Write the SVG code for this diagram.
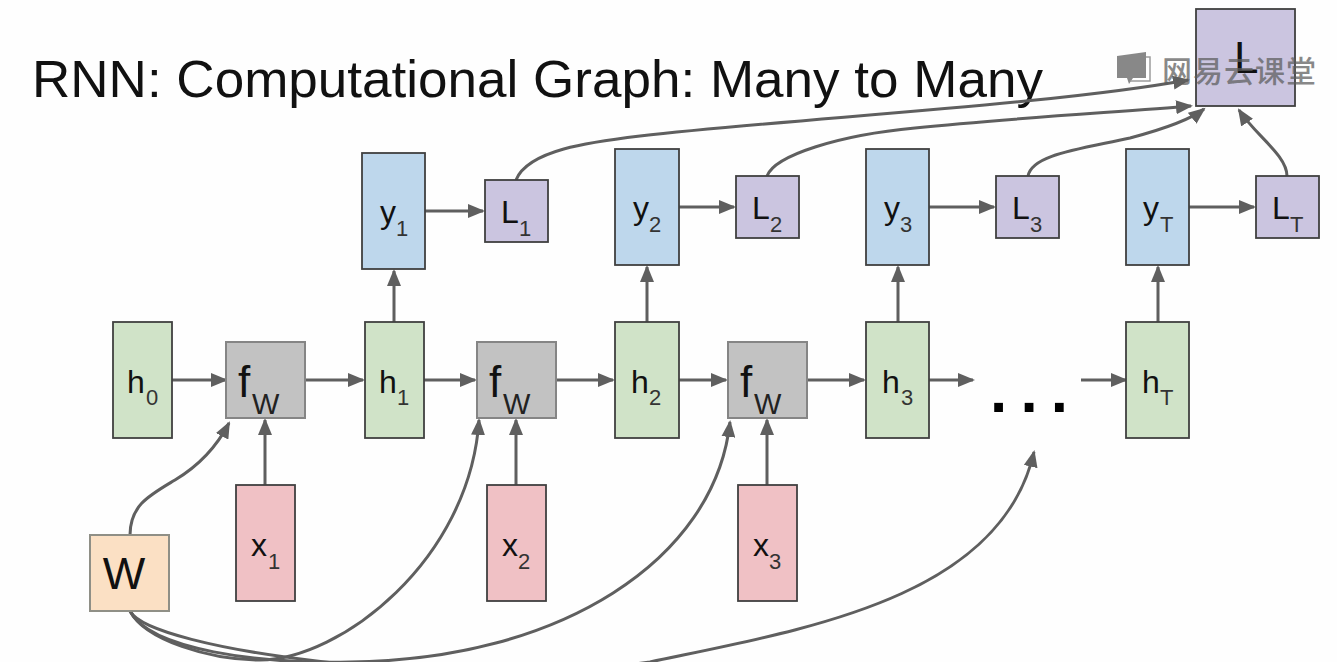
<svg xmlns="http://www.w3.org/2000/svg" width="1337" height="662" viewBox="0 0 1337 662">
<defs>
<marker id="a" markerUnits="userSpaceOnUse" markerWidth="18" markerHeight="14" refX="15" refY="7" orient="auto"><path d="M0 0L17 7L0 14Z" fill="#5f5f5f"/></marker>
</defs>
<style>
.n{stroke:#404040;stroke-width:1.8}
.g{fill:#d0e3c8}.b{fill:#bed7ec}.p{fill:#cbc5e0}.r{fill:#f0c1c5}.f{fill:#c2c2c2;stroke:#858585;stroke-width:2}.o{fill:#fbe0c4;stroke:#8f8f86;stroke-width:2}
text{font-family:"Liberation Sans",Arial,sans-serif;fill:#111}
.t{font-size:32px;text-anchor:middle}
.s{font-size:22px;fill:#333}
.w{font-size:44px}
.v{font-size:29px;fill:#222}
.c path{fill:none;stroke:#5f5f5f;stroke-width:3;marker-end:url(#a)}
</style>
<rect width="1337" height="662" fill="#fefefe"/>
<text id="title" x="32" y="97" font-size="52" textLength="1011" lengthAdjust="spacingAndGlyphs">RNN: Computational Graph: Many to Many</text>
<g id="connectors" class="c">
<path d="M172 380H226"/><path d="M305 380H363"/><path d="M424 380H475"/><path d="M556 380H613"/><path d="M679 380H726"/><path d="M807 380H864"/><path d="M929 380H973"/><path d="M1081 380H1126"/>
<path d="M394 322V271"/><path d="M647 322V267"/><path d="M898 322V267"/><path d="M1158 322V267"/>
<path d="M425 211H483"/><path d="M679 207H734"/><path d="M929 207H994"/><path d="M1189 207H1254"/>
<path d="M265 485V420"/><path d="M516 485V420"/><path d="M767 485V420"/>
<path d="M130 535C130 505 150 495 175 480C195 468 215 450 229 423"/>
<path d="M130 611C145 640 210 660 260 660C340 660 470 560 479 420"/>
<path d="M130 611C150 650 260 664 350 662C560 660 715 560 730 422"/>
<path d="M130 611C150 650 450 690 650 662C800 630 1000 600 1034 452"/>
<path d="M516 180C528 150 590 142 640 136C800 118 1050 105 1188 80"/>
<path d="M767 176C775 155 840 135 915 128C1010 118 1120 112 1191 106"/>
<path d="M1028 176C1032 155 1075 150 1130 138C1160 130 1190 120 1204 109"/>
<path d="M1287 176C1287 155 1255 135 1239 110"/>
</g>
<g id="h0"><rect class="n g" x="113" y="322" width="59" height="116"/><text class="t" x="136" y="393">h</text><text class="s" x="146" y="405">0</text></g>
<g id="f1"><rect class="f" x="226" y="342" width="79" height="76"/><text class="w" x="238" y="397">f</text><text class="v" x="252" y="414">W</text></g>
<g id="f2"><rect class="f" x="477" y="342" width="79" height="76"/><text class="w" x="489" y="397">f</text><text class="v" x="503" y="414">W</text></g>
<g id="f3"><rect class="f" x="728" y="342" width="79" height="76"/><text class="w" x="740" y="397">f</text><text class="v" x="754" y="414">W</text></g>
<g id="h1"><rect class="n g" x="365" y="322" width="59" height="116"/><text class="t" x="388" y="393">h</text><text class="s" x="397" y="405">1</text></g>
<g id="h2"><rect class="n g" x="615" y="322" width="64" height="116"/><text class="t" x="640" y="393">h</text><text class="s" x="649" y="405">2</text></g>
<g id="h3"><rect class="n g" x="866" y="322" width="63" height="116"/><text class="t" x="891" y="393">h</text><text class="s" x="901" y="405">3</text></g>
<g id="hT"><rect class="n g" x="1126" y="322" width="63" height="116"/><text class="t" x="1151" y="393">h</text><text class="s" x="1160" y="405">T</text></g>
<g id="y1"><rect class="n b" x="362" y="153" width="63" height="116"/><text class="t" x="388" y="223">y</text><text class="s" x="396" y="236">1</text></g>
<g id="y2"><rect class="n b" x="615" y="149" width="64" height="116"/><text class="t" x="641" y="219">y</text><text class="s" x="649" y="232">2</text></g>
<g id="y3"><rect class="n b" x="866" y="149" width="63" height="116"/><text class="t" x="892" y="219">y</text><text class="s" x="900" y="232">3</text></g>
<g id="yT"><rect class="n b" x="1126" y="149" width="63" height="116"/><text class="t" x="1151" y="219">y</text><text class="s" x="1160" y="232">T</text></g>
<g id="L1"><rect class="n p" x="485" y="180" width="63" height="62"/><text class="t" x="510" y="223">L</text><text class="s" x="519" y="236">1</text></g>
<g id="L2"><rect class="n p" x="736" y="176" width="63" height="62"/><text class="t" x="761" y="219">L</text><text class="s" x="770" y="232">2</text></g>
<g id="L3"><rect class="n p" x="996" y="176" width="63" height="62"/><text class="t" x="1021" y="219">L</text><text class="s" x="1030" y="232">3</text></g>
<g id="LT"><rect class="n p" x="1256" y="176" width="63" height="62"/><text class="t" x="1281" y="219">L</text><text class="s" x="1290" y="232">T</text></g>
<g id="x1"><rect class="n r" x="236" y="485" width="59" height="116"/><text class="t" x="259" y="556">x</text><text class="s" x="268" y="569">1</text></g>
<g id="x2"><rect class="n r" x="487" y="485" width="59" height="116"/><text class="t" x="510" y="556">x</text><text class="s" x="518" y="569">2</text></g>
<g id="x3"><rect class="n r" x="738" y="485" width="59" height="116"/><text class="t" x="761" y="556">x</text><text class="s" x="769" y="569">3</text></g>
<g id="W"><rect class="o" x="90" y="535" width="79" height="76"/><text x="124" y="589" font-size="45" text-anchor="middle">W</text></g>
<g id="L"><rect class="n p" x="1196" y="9" width="99" height="97"/><text x="1234" y="73" font-size="44">L</text></g>
<text id="dots" x="990" y="412" font-size="62" font-weight="bold" textLength="78" style="fill:#000">...</text>
<g id="watermark" opacity=".72">
<path d="M1117 56L1146 52V78H1133L1129 84L1127 78H1117Z" fill="#5c5c5c"/><path d="M1146 57H1150V81H1130" fill="none" stroke="#777" stroke-width="1.5"/>
<text x="1162" y="82" font-size="30" textLength="154" font-weight="500" style="font-family:'Noto Sans CJK SC',sans-serif;fill:#5c5c5c">网易云课堂</text>
</g>
</svg>
